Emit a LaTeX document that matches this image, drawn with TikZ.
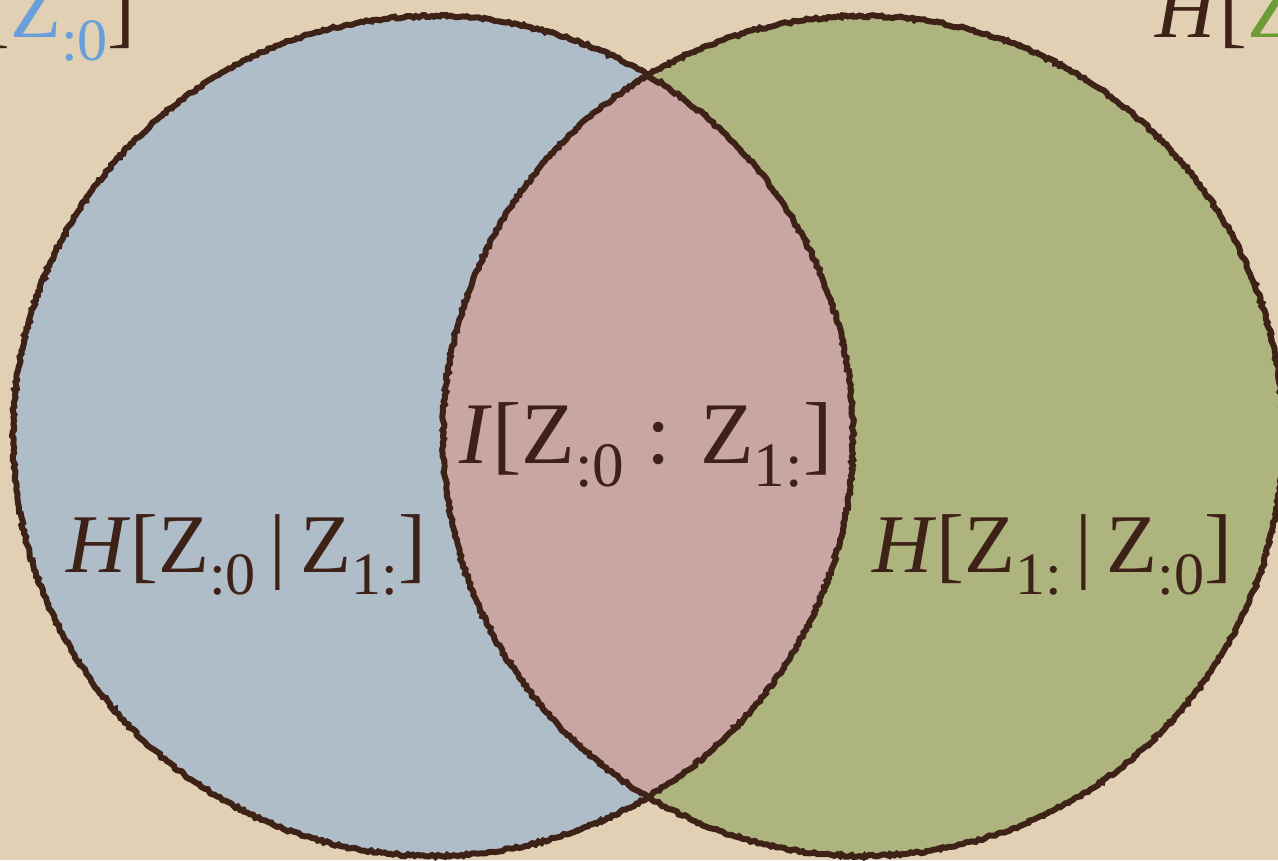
\documentclass[tikz,border=0pt]{standalone}
\usepackage{fontspec}
\setmainfont{Liberation Serif}
\usepackage{graphicx}
\usetikzlibrary{decorations.pathmorphing}
\definecolor{paper}{RGB}{226,208,180}
\definecolor{ink}{RGB}{62,34,24}
\definecolor{zeroblue}{RGB}{175,189,201}
\definecolor{oneGreen}{RGB}{173,180,125}
\definecolor{mutualpink}{RGB}{201,166,163}
\definecolor{labelblue}{RGB}{106,160,218}
\definecolor{labelgreen}{RGB}{108,156,54}
\newcommand{\idx}[1]{\raisebox{-0.27em}{\scalebox{0.72}{#1}}}

\begin{document}
\begin{tikzpicture}[x=0.02cm, y=0.02cm,
  rim/.style={draw=ink, line width=3.4pt, decorate,
    decoration={random steps, segment length=1.6pt, amplitude=0.7pt}},
  term/.style={text=ink, inner sep=0pt, font=\fontsize{47.5}{54}\selectfont}]
  \useasboundingbox (0,0) rectangle (1278,860);
  \clip (0,0) rectangle (1278,860);
  \fill[paper] (0,0) rectangle (1278,860);
  \coordinate (zero) at (433,424);
  \coordinate (one) at (863,424);
  \fill[zeroblue] (zero) circle[radius=420];
  \fill[oneGreen] (one) circle[radius=420];
  \begin{scope}
    \clip (zero) circle[radius=420];
    \fill[mutualpink] (one) circle[radius=420];
  \end{scope}
  \draw[rim] (zero) circle[radius=420];
  \draw[rim] (one) circle[radius=420];
  \node[term, anchor=base east] (hzero) at (136,822) {\textit{H}[\textcolor{labelblue}{Z\idx{:0}}]};
  \node[term, anchor=base west] (hone) at (1155,822) {\textit{H}[\textcolor{labelgreen}{Z\idx{1:}}]};
  \node[term, anchor=base, font=\fontsize{50}{56}\selectfont] (mutual) at (646,397) {\textit{I}[Z\idx{:0} : Z\idx{1:}]};
  \node[term, anchor=base west] (hzgivenone) at (66,288) {\textit{H}[Z\idx{:0}\,|\,Z\idx{1:}]};
  \node[term, anchor=base west] (honegivenz) at (872,288) {\textit{H}[Z\idx{1:}\,|\,Z\idx{:0}]};
\end{tikzpicture}
\end{document}
